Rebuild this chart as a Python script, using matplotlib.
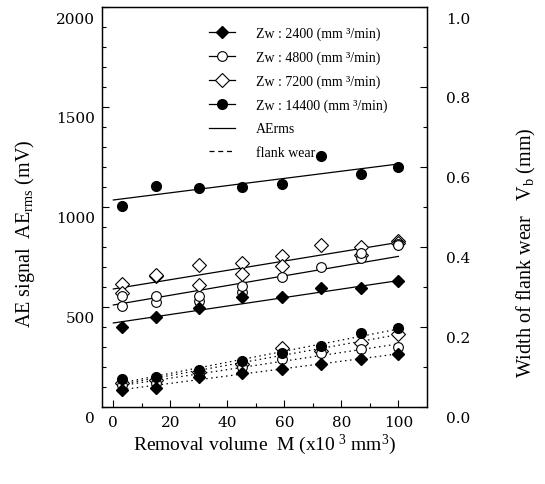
import numpy as np
import matplotlib
matplotlib.use("Agg")
import matplotlib.pyplot as plt
from matplotlib.lines import Line2D
from matplotlib.transforms import ScaledTranslation

plt.rcParams["font.family"] = ["Liberation Serif", "DejaVu Serif"]
plt.rcParams["mathtext.fontset"] = "custom"
plt.rcParams["mathtext.rm"] = "Liberation Serif"
plt.rcParams["mathtext.it"] = "Liberation Serif:italic"

# Removal volume M (x10^3 mm^3)
removal = [3, 15, 30, 45, 59, 73, 87, 100]

# AE rms signal (mV)
ae_2400 = [400, 450, 495, 548, 548, 593, 593, 630]
ae_4800 = [503, 527, 532, 573, 648, 698, 745, 815]
ae_4800_rep = [557, 557, 557, 607, np.nan, np.nan, 770, 808]
ae_7200 = [615, 657, 710, 720, 757, 810, 798, 832]
ae_7200_rep = [568, 662, 610, 665, 707, np.nan, 760, 822]
ae_14400 = [1003, 1103, 1093, 1098, 1115, 1257, 1165, 1198]

# AE regression lines: value at M = 0 and M = 100
ae_fit_2400 = [420, 632]
ae_fit_4800 = [510, 753]
ae_fit_7200 = [590, 823]
ae_fit_14400 = [1035, 1215]

# Flank wear width Vb (mm)
wear_2400 = [0.043, 0.048, 0.075, 0.085, 0.095, 0.107, 0.120, 0.132]
wear_4800 = [0.055, 0.060, 0.082, 0.100, 0.120, 0.135, 0.145, 0.149]
wear_7200 = [0.060, 0.068, 0.088, 0.108, 0.147, 0.140, 0.160, 0.182]
wear_14400 = [0.070, 0.075, 0.092, 0.116, 0.135, 0.153, 0.184, 0.197]

legend_labels = ["Zw : 2400 (mm \u00b3/min)", "Zw : 4800 (mm \u00b3/min)",
                 "Zw : 7200 (mm \u00b3/min)", "Zw : 14400 (mm \u00b3/min)",
                 "AErms", "flank wear"]

fig = plt.figure(figsize=(5.45, 4.85), dpi=100)
ax = fig.add_axes([0.187, 0.1588, 0.5963, 0.8247])
ax2 = ax.twinx()

styles = {
    "2400": dict(marker="D", ms=6.5, mfc="black", mec="black"),
    "4800": dict(marker="o", ms=7, mfc="white", mec="black", mew=0.8),
    "7200": dict(marker="D", ms=7.5, mfc="white", mec="black", mew=0.8),
    "14400": dict(marker="o", ms=7, mfc="black", mec="black"),
}

x = np.array(removal)
fit_x = np.array([0, 100])

# AE lines
for fit in (ae_fit_2400, ae_fit_4800, ae_fit_7200, ae_fit_14400):
    ax.plot(fit_x, fit, color="black", lw=0.9, zorder=2)

# flank wear dotted fits
for w in (wear_2400, wear_4800, wear_7200, wear_14400):
    k, b = np.polyfit(x, w, 1)
    xs = np.array([3, 100])
    ax2.plot(xs, k * xs + b, color="black", lw=0.9, ls=(0, (1.2, 2.8)), zorder=2)

# AE markers
ax.plot(x, ae_7200, ls="none", zorder=3, **styles["7200"])
ax.plot(x, ae_7200_rep, ls="none", zorder=3, **styles["7200"])
ax.plot(x, ae_4800, ls="none", zorder=3, **styles["4800"])
ax.plot(x, ae_4800_rep, ls="none", zorder=3, **styles["4800"])
ax.plot(x, ae_2400, ls="none", zorder=3, **styles["2400"])
ax.plot(x, ae_14400, ls="none", zorder=3, **styles["14400"])

# flank wear markers
ax2.plot(x, wear_7200, ls="none", zorder=3, **styles["7200"])
ax2.plot(x, wear_4800, ls="none", zorder=3, **styles["4800"])
ax2.plot(x, wear_14400, ls="none", zorder=3, **styles["14400"])
ax2.plot(x, wear_2400, ls="none", zorder=3, **styles["2400"])

ax.set_xlim(-4, 110)
ax.set_ylim(0, 2000)
ax2.set_ylim(0, 1.0)

ax.set_xticks([0, 20, 40, 60, 80, 100])
ax.set_xticks(np.arange(10, 110, 20), minor=True)
ax.set_yticks([0, 500, 1000, 1500, 2000])
ax.set_yticks(np.arange(100, 2000, 100), minor=True)
ax2.set_yticks([0.0, 0.2, 0.4, 0.6, 0.8, 1.0])
ax2.set_yticks(np.arange(0.1, 1.0, 0.2), minor=True)
ax2.set_yticklabels(["0.0", "0.2", "0.4", "0.6", "0.8", "1.0"])

ax.tick_params(axis="both", which="major", direction="in", length=5, width=0.8)
ax.tick_params(axis="both", which="minor", direction="in", length=3, width=0.8)
ax.tick_params(axis="x", pad=6)
ax.tick_params(axis="y", pad=5)
ax2.tick_params(axis="y", which="major", direction="in", length=5, width=0.8, pad=14)
ax2.tick_params(axis="y", which="minor", direction="in", length=3, width=0.8)
for lab in ax.get_xticklabels() + ax.get_yticklabels() + ax2.get_yticklabels():
    lab.set_fontfamily("DejaVu Serif")
    lab.set_fontsize(11)

shift = ScaledTranslation(0, -0.1, fig.dpi_scale_trans)
for lab in ax.get_yticklabels() + ax2.get_yticklabels():
    lab.set_transform(lab.get_transform() + shift)

for a in (ax, ax2):
    for s in a.spines.values():
        s.set_linewidth(0.9)

fig.text(0.485, 0.082, "Removal volume  M (x10\u2009$^3$ mm$^3$)", ha="center", va="center", fontsize=14)
fig.text(0.046, 0.517, "AE signal  AE$_{\\rm rms}$ (mV)", ha="center", va="center",
         rotation=90, fontsize=14.5)
fig.text(0.966, 0.48, "Width of flank wear   V$_{\\rm b}$ (mm)", ha="center", va="center",
         rotation=90, fontsize=14.5)

handles = [
    Line2D([], [], color="black", lw=0.9, **styles["2400"]),
    Line2D([], [], color="black", lw=0.9, **styles["4800"]),
    Line2D([], [], color="black", lw=0.9, **styles["7200"]),
    Line2D([], [], color="black", lw=0.9, **styles["14400"]),
    Line2D([], [], color="black", lw=0.9),
    Line2D([], [], color="black", lw=0.9, ls=(0, (4, 3))),
]
fig.legend(handles, legend_labels, loc="upper left", bbox_to_anchor=(0.37, 0.957),
           frameon=False, fontsize=10, handlelength=1.9, handletextpad=1.5,
           labelspacing=0.75, borderpad=0)

fig.savefig("out.png", dpi=100)
